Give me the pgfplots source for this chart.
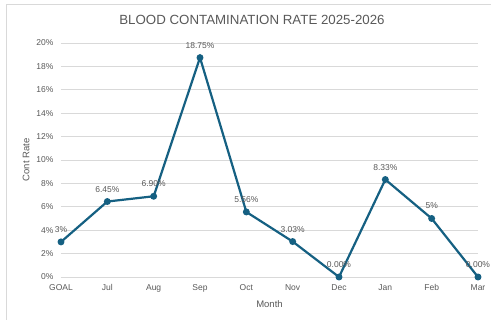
\documentclass[border=0pt]{standalone}
\usepackage{fontspec}
\setmainfont{Liberation Sans}
\usepackage{pgfplots}
\pgfplotsset{compat=1.18}
\definecolor{linecol}{HTML}{156082}
\definecolor{txtgray}{HTML}{595959}
\definecolor{gridgray}{HTML}{D9D9D9}
\begin{document}
\begin{tikzpicture}[x=1pt,y=1pt]
\useasboundingbox (0,0) rectangle (491,321);
\fill[white] (0,0) rectangle (491,321);
\draw[gridgray,line width=0.8pt] (6.5,1) -- (6.5,316.5) -- (491,316.5);
\node[txtgray,font=\fontsize{13.3}{15}\selectfont] at (252,301) {BLOOD CONTAMINATION RATE 2025-2026};
\begin{axis}[
  at={(61pt,44pt)}, anchor=origin,
  scale only axis, width=417pt, height=234pt,
  xmin=0, xmax=9, ymin=0, ymax=20,
  clip=false,
  axis x line*=bottom,
  axis y line*=left,
  x axis line style={draw=gridgray,-},
  y axis line style={draw=none},
  ymajorgrids, grid style={gridgray,line width=0.6pt},
  xtick={0,...,9},
  xticklabels={GOAL,Jul,Aug,Sep,Oct,Nov,Dec,Jan,Feb,Mar},
  ytick={0,2,...,20},
  yticklabel={\pgfmathprintnumber{\tick}\%},
  tick style={draw=none},
  tick label style={txtgray,font=\fontsize{8.5}{10}\selectfont},
  /pgf/number format/assume math mode=true,
  xticklabel style={yshift=-4pt},
  yticklabel style={xshift=-4pt},
  xlabel={Month}, ylabel={Cont Rate},
  label style={txtgray,font=\fontsize{9.5}{11}\selectfont},
  xlabel style={yshift=-2pt},
  ylabel style={yshift=0pt},
  nodes near coords,
  point meta=explicit symbolic,
  every node near coord/.append style={txtgray,font=\fontsize{8.5}{10}\selectfont,yshift=5pt},
]
\addplot[linecol,line width=2.2pt,mark=*,mark size=2.3pt,mark options={fill=linecol,draw=linecol},
  nodes near coords style={}]
  table[meta=lab] {
x y lab
0 3 3\%
1 6.45 6.45\%
2 6.90 6.90\%
3 18.75 18.75\%
4 5.56 5.56\%
5 3.03 3.03\%
6 0.00 0.00\%
7 8.33 8.33\%
8 5 5\%
9 0.00 0.00\%
};
\end{axis}
\end{tikzpicture}
\end{document}
